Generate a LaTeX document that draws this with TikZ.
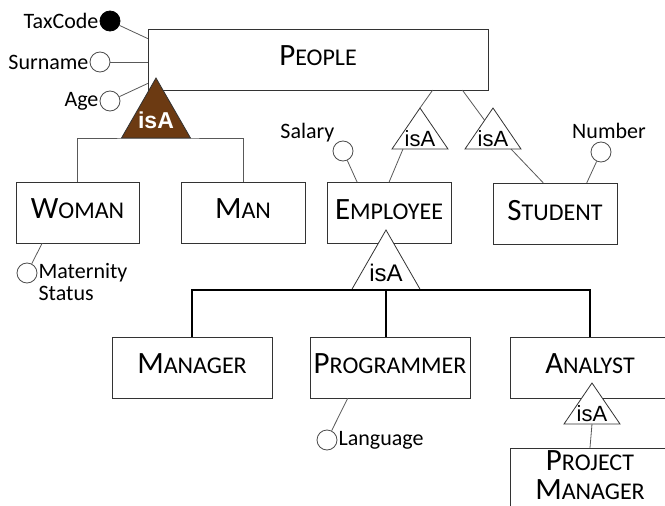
\documentclass[tikz,border=0pt]{standalone}
\usepackage{fontspec}
\setmainfont{Carlito}
\newfontfamily\isafont{Liberation Sans}
\usepackage{tikz}
\usetikzlibrary{calc}
\usetikzlibrary{positioning, shapes.geometric}

\definecolor{isabrown}{RGB}{108,58,18}
\newcommand{\ename}[2]{{\fontsize{31}{29}\selectfont #1\fontsize{24}{29}\selectfont #2}}

\begin{document}
\begin{tikzpicture}[x=1pt, y=-1pt,
        entity/.style={draw=black!80, fill=white, minimum width=160pt, minimum height=61pt, inner sep=0pt, text depth=7pt, font=\fontsize{24}{29}\selectfont},
        attr/.style={circle, draw=black!70, line width=0.8pt, fill=white, minimum size=20pt, inner sep=0pt},
        keyattr/.style={attr, draw=black, fill=black},
        link/.style={draw=black!65, line width=0.8pt},
        bus/.style={draw=black, line width=1.5pt},
        isa/.style={isosceles triangle, shape border rotate=90, isosceles triangle stretches, draw=black!80, line width=0.8pt, fill=white, inner sep=0pt, outer sep=0pt, anchor=apex},
        smallisa/.style={isa, minimum width=56pt, minimum height=41pt},
        bigisa/.style={isa, minimum width=69pt, minimum height=60pt},
        isatext/.style={anchor=south, inner sep=1pt, font=\isafont\fontsize{22}{22}\selectfont},
        every label/.style={inner sep=1pt, font=\fontsize{22}{22}\selectfont}
    ]
    \useasboundingbox (0,0) rectangle (665,506);

    % entities
    \node[entity, minimum width=340pt]  (people)     at (318,59.5)  {\ename{P}{EOPLE}};
    \node[entity, minimum width=123pt]  (woman)      at (77.5,212.5) {\ename{W}{OMAN}};
    \node[entity, minimum width=124pt]  (man)        at (243,212.5) {\ename{M}{AN}};
    \node[entity, minimum width=124pt]  (employee)   at (389,213)   {\ename{E}{MPLOYEE}};
    \node[entity, minimum width=124pt]  (student)    at (555,213.5) {\ename{S}{TUDENT}};
    \node[entity]                       (manager)    at (192,367.5) {\ename{M}{ANAGER}};
    \node[entity]                       (programmer) at (390,367.5) {\ename{P}{ROGRAMMER}};
    \node[entity]                       (analyst)    at (590,367.5) {\ename{A}{NALYST}};
    \node[entity, align=center]         (projman)    at (590,478.5) {\ename{P}{ROJECT}\\\ename{M}{ANAGER}};

    % attributes
    \node[keyattr, label={left:TaxCode}]                (taxcode)   at (110,21)  {};
    \node[attr, label={left:Surname}]                   (surname)   at (100,62)  {};
    \node[attr, label={left:Age}]                       (age)       at (110,101) {};
    \node[attr, label={above left:Salary}]              (salary)    at (343,151) {};
    \node[attr, label={[xshift=8pt, yshift=2pt]above:Number}] (number) at (601,152) {};
    \node[attr, label={[align=left, yshift=-9pt]right:Maternity\\Status}] (maternity) at (27,273) {};
    \node[attr, label={right:Language}]                 (language)  at (327,440) {};

    \draw[link] (taxcode) -- (people.173);                  % TaxCode
    \draw[link] (surname) -- (surname -| people.west);      % Surname
    \draw[link] (age) -- (people.188);                      % Age
    \draw[link] (salary) -- (employee.136);                 % Salary
    \draw[link] (number) -- (student.44);                   % Number
    \draw[link] (maternity) -- (woman.221);                 % Maternity status
    \draw[link] (language) -- (programmer.216);             % Language

    % isA triangles
    \node[bigisa, fill=isabrown, label={[isatext, text=white, font=\isafont\bfseries\fontsize{23}{23}\selectfont, yshift=8pt]south:isA}] (isapeople) at (156,78) {};
    \node[smallisa, label={[isatext, yshift=1pt]south:isA}]  (isaemp)  at (420,108) {};
    \node[smallisa, label={[isatext, yshift=1pt]south:isA}]  (isastu)  at (493,108) {};
    \node[bigisa, label={[isatext, yshift=7pt, font=\isafont\fontsize{24}{24}\selectfont]south:isA}] (isajob) at (386,230) {};
    \node[smallisa, label={[isatext, yshift=1pt]south:isA}]  (isaana)  at (592,383) {};

    \draw[link] (woman.north) |- (isapeople.lower side) -| (man.north);         % woman / man
    \draw[link] (people.-15) -- (isaemp.apex);                                  % people to employee
    \draw[link] ([xshift=-17pt]isaemp.lower side) -- (employee.north);
    \draw[link] (people.-12) -- ($(isastu.apex)!0.3!(isastu.left corner)$);    % people to student
    \draw[link] ([xshift=18pt]isastu.lower side) -- (student.111);
    \draw[bus] (manager.north) |- (isajob.lower side) -| (analyst.north);       % jobs
    \draw[bus, line width=2.5pt] (isajob.lower side) -- (isajob.lower side |- programmer.north);
    \draw[link] (isaana.lower side) -- (projman.north);                         % analyst to project manager
\end{tikzpicture}
\end{document}
